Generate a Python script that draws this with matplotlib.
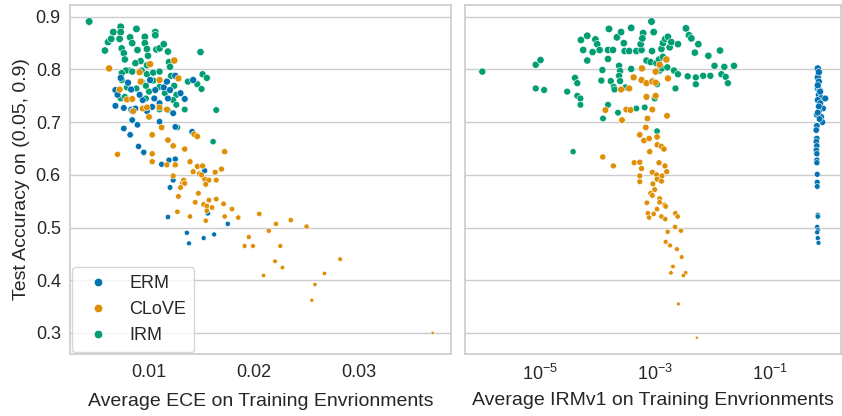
import numpy as np
import matplotlib
matplotlib.use("Agg")
import matplotlib.pyplot as plt
from matplotlib.lines import Line2D

plt.rcParams['font.family'] = ['Liberation Sans', 'DejaVu Sans']

methods = ["ERM", "CLoVE", "IRM"]
colors = {"ERM": "#0173b2", "CLoVE": "#de8f05", "IRM": "#029e73"}

# ---- left panel: average ECE vs test accuracy
erm_ece = [0.0073, 0.0068, 0.0068, 0.0076, 0.0083, 0.0083, 0.0080, 0.0094, 0.0105, 0.0106,
           0.0114, 0.0117, 0.0125, 0.0118, 0.0123, 0.0134, 0.0130, 0.0142, 0.0076, 0.0082,
           0.0084, 0.0089, 0.0090, 0.0095, 0.0110, 0.0125, 0.0141, 0.0112, 0.0119, 0.0125,
           0.0123, 0.0120, 0.0103, 0.0087, 0.0084, 0.0095, 0.0153, 0.0118, 0.0156, 0.0175,
           0.0136, 0.0138, 0.0152, 0.0162, 0.0101, 0.0091, 0.0110, 0.0070, 0.0098, 0.0120]
erm_ece_acc = [0.784, 0.761, 0.731, 0.727, 0.724, 0.762, 0.775, 0.742, 0.745, 0.761,
               0.766, 0.777, 0.788, 0.745, 0.717, 0.744, 0.755, 0.780, 0.688, 0.676,
               0.704, 0.695, 0.654, 0.642, 0.701, 0.691, 0.682, 0.620, 0.628, 0.630,
               0.590, 0.576, 0.729, 0.726, 0.721, 0.643, 0.608, 0.520, 0.527, 0.507,
               0.490, 0.470, 0.480, 0.487, 0.780, 0.752, 0.736, 0.752, 0.721, 0.761]

clove_ece = [0.0062, 0.0072, 0.0079, 0.0084, 0.0085, 0.0091, 0.0092, 0.0094, 0.0098, 0.0100,
             0.0101, 0.0110, 0.0110, 0.0112, 0.0124, 0.0117, 0.0128, 0.0103, 0.0103, 0.0103,
             0.0118, 0.0123, 0.0134, 0.0143, 0.0146, 0.0139, 0.0146, 0.0151, 0.0142, 0.0148,
             0.0163, 0.0169, 0.0172, 0.0070, 0.0117, 0.0125, 0.0123, 0.0132, 0.0153, 0.0157,
             0.0164, 0.0154, 0.0128, 0.0147, 0.0133, 0.0134, 0.0130, 0.0150, 0.0144, 0.0157,
             0.0164, 0.0152, 0.0155, 0.0160, 0.0155, 0.0171, 0.0179, 0.0127, 0.0139, 0.0154,
             0.0172, 0.0185, 0.0205, 0.0221, 0.0235, 0.0250, 0.0214, 0.0195, 0.0191, 0.0199,
             0.0225, 0.0282, 0.0220, 0.0227, 0.0209, 0.0267, 0.0258, 0.0255, 0.0370]
clove_ece_acc = [0.802, 0.762, 0.743, 0.744, 0.721, 0.795, 0.777, 0.726, 0.728, 0.710,
                 0.810, 0.780, 0.728, 0.690, 0.817, 0.724, 0.783, 0.676, 0.640, 0.625,
                 0.666, 0.655, 0.649, 0.677, 0.673, 0.625, 0.616, 0.617, 0.606, 0.602,
                 0.605, 0.611, 0.644, 0.639, 0.619, 0.619, 0.598, 0.585, 0.592, 0.590,
                 0.590, 0.582, 0.559, 0.565, 0.590, 0.584, 0.576, 0.600, 0.548, 0.552,
                 0.554, 0.544, 0.541, 0.538, 0.532, 0.545, 0.535, 0.530, 0.521, 0.513,
                 0.521, 0.519, 0.526, 0.507, 0.514, 0.502, 0.494, 0.482, 0.465, 0.465,
                 0.465, 0.440, 0.436, 0.424, 0.409, 0.413, 0.392, 0.362, 0.300]

irm_ece = [0.0043, 0.0058, 0.0061, 0.0064, 0.0066, 0.0073, 0.0073, 0.0072, 0.0074, 0.0076,
           0.0077, 0.0082, 0.0084, 0.0088, 0.0089, 0.0096, 0.0096, 0.0098, 0.0099, 0.0106,
           0.0106, 0.0107, 0.0110, 0.0114, 0.0118, 0.0119, 0.0149, 0.0092, 0.0087, 0.0098,
           0.0081, 0.0078, 0.0074, 0.0084, 0.0093, 0.0098, 0.0104, 0.0110, 0.0104, 0.0093,
           0.0097, 0.0100, 0.0110, 0.0120, 0.0121, 0.0124, 0.0115, 0.0126, 0.0123, 0.0137,
           0.0146, 0.0151, 0.0155, 0.0150, 0.0164, 0.0134, 0.0126, 0.0118, 0.0110, 0.0097,
           0.0088, 0.0079, 0.0073, 0.0074, 0.0077, 0.0127, 0.0161]
irm_ece_acc = [0.891, 0.836, 0.852, 0.858, 0.871, 0.881, 0.871, 0.858, 0.840, 0.831,
               0.819, 0.861, 0.850, 0.877, 0.837, 0.862, 0.850, 0.839, 0.826, 0.871,
               0.865, 0.838, 0.840, 0.848, 0.834, 0.814, 0.833, 0.816, 0.812, 0.808,
               0.798, 0.798, 0.793, 0.796, 0.798, 0.791, 0.794, 0.796, 0.779, 0.777,
               0.769, 0.758, 0.767, 0.805, 0.788, 0.769, 0.755, 0.752, 0.742, 0.777,
               0.772, 0.791, 0.784, 0.763, 0.723, 0.724, 0.733, 0.723, 0.724, 0.745,
               0.764, 0.766, 0.745, 0.780, 0.748, 0.690, 0.663]

# ---- right panel: average IRMv1 penalty vs test accuracy
erm_irm = [0.69, 0.69, 0.72, 0.69, 0.74, 0.72, 0.79, 0.93, 0.69, 0.76,
           0.85, 0.72, 0.665, 0.79, 0.83, 0.665, 0.649, 0.665, 0.649, 0.665,
           0.649, 0.665, 0.665, 0.665, 0.675, 0.675, 0.675, 0.69, 0.69, 0.675,
           0.69, 0.675, 0.69, 0.71, 0.72, 0.69, 0.76, 0.72, 0.69, 0.74]
erm_irm_acc = [0.802, 0.785, 0.777, 0.764, 0.761, 0.752, 0.746, 0.745, 0.742, 0.736,
               0.726, 0.721, 0.714, 0.710, 0.700, 0.693, 0.685, 0.669, 0.663, 0.655,
               0.647, 0.640, 0.628, 0.623, 0.601, 0.586, 0.578, 0.524, 0.521, 0.501,
               0.495, 0.491, 0.480, 0.471, 0.795, 0.770, 0.758, 0.730, 0.718, 0.706]

clove_irm = [6.0e-4, 4.3e-4, 5.9e-4, 7.2e-4, 9.1e-4, 1.04e-3, 2.6e-4, 3.6e-4, 1.70e-3, 1.04e-3,
             1.22e-3, 1.6e-3, 7.2e-4, 1.04e-3, 1.39e-4, 3.2e-4, 3.8e-4, 9.1e-4, 2.7e-4, 7.5e-4,
             1.64e-3, 7.0e-4, 5.5e-4, 6.5e-4, 8.0e-4, 1.10e-3, 1.11e-3, 1.31e-3, 1.45e-3, 8.2e-4,
             1.25e-4, 1.91e-4, 4.4e-4, 5.5e-4, 5.9e-4, 1.19e-3, 1.51e-3, 9.1e-4, 1.62e-3, 5.5e-4,
             5.5e-4, 1.08e-3, 1.34e-3, 1.10e-3, 1.31e-3, 9.3e-4, 1.0e-3, 8.5e-4, 9.1e-4, 1.22e-3,
             1.22e-3, 7.3e-4, 1.49e-3, 1.55e-3, 1.10e-3, 7.6e-4, 9.6e-4, 8.0e-4, 1.31e-3, 1.53e-3,
             2.29e-3, 2.51e-3, 2.26e-3, 2.87e-3, 1.68e-3, 1.55e-3, 1.85e-3, 2.44e-3, 2.95e-3, 2.08e-3,
             1.92e-3, 3.46e-3, 3.16e-3, 2.58e-3, 5.4e-3]
clove_irm_acc = [0.802, 0.785, 0.780, 0.774, 0.777, 0.775, 0.762, 0.764, 0.783, 0.796,
                 0.809, 0.819, 0.748, 0.750, 0.723, 0.724, 0.723, 0.724, 0.704, 0.707,
                 0.712, 0.690, 0.676, 0.665, 0.669, 0.672, 0.657, 0.654, 0.649, 0.644,
                 0.634, 0.617, 0.623, 0.624, 0.612, 0.623, 0.617, 0.605, 0.606, 0.598,
                 0.587, 0.600, 0.598, 0.592, 0.588, 0.583, 0.572, 0.565, 0.561, 0.555,
                 0.548, 0.547, 0.543, 0.540, 0.535, 0.527, 0.526, 0.519, 0.521, 0.516,
                 0.527, 0.521, 0.501, 0.494, 0.492, 0.473, 0.466, 0.459, 0.444, 0.426,
                 0.414, 0.414, 0.409, 0.355, 0.291]

irm_irm = [1.0e-6, 8.5e-6, 1.03e-5, 8.5e-6, 1.19e-5, 3.0e-5, 4.1e-5, 4.5e-5, 4.5e-5, 5.1e-5,
           5.1e-5, 3.8e-5, 5.2e-5, 6.7e-5, 5.7e-5, 6.7e-5, 8.3e-5, 9.3e-5, 1.0e-4, 1.1e-4,
           1.6e-4, 1.54e-4, 1.88e-4, 1.54e-4, 1.23e-4, 1.18e-4, 1.72e-4, 1.94e-4, 2.0e-4, 2.2e-4,
           2.6e-4, 2.9e-4, 3.0e-4, 3.6e-4, 3.9e-4, 4.8e-4, 5.9e-4, 5.7e-4, 6.3e-4, 6.1e-4,
           8.8e-4, 9.6e-4, 9.0e-4, 2.4e-4, 2.5e-4, 2.4e-4, 2.5e-4, 3.1e-4, 3.9e-4, 7.2e-4,
           8.5e-4, 1.07e-3, 1.19e-3, 1.39e-3, 1.31e-3, 1.39e-3, 1.53e-3, 1.70e-3, 1.82e-3, 1.95e-3,
           2.54e-3, 1.22e-3, 1.34e-3, 1.66e-3, 2.17e-3, 2.54e-3, 1.10e-3, 1.0e-3, 9.1e-4, 4.8e-4,
           6.7e-4, 2.3e-4, 1.54e-4, 1.26e-4, 1.10e-3, 2.3e-3, 3.5e-3, 3.95e-3, 4.35e-3, 5.75e-3,
           5.0e-3, 3.75e-3, 5.2e-3, 5.2e-3, 7.0e-3, 9.3e-3, 8.6e-3, 1.37e-2, 1.10e-2, 1.63e-2,
           2.4e-2, 1.45e-2, 1.72e-2, 1.88e-2]
irm_irm_acc = [0.796, 0.809, 0.818, 0.764, 0.761, 0.758, 0.784, 0.774, 0.750, 0.745,
               0.733, 0.644, 0.856, 0.864, 0.837, 0.817, 0.833, 0.857, 0.848, 0.837,
               0.877, 0.837, 0.837, 0.820, 0.799, 0.779, 0.778, 0.767, 0.762, 0.861,
               0.871, 0.850, 0.835, 0.835, 0.879, 0.835, 0.837, 0.848, 0.869, 0.859,
               0.891, 0.871, 0.835, 0.807, 0.797, 0.788, 0.778, 0.766, 0.801, 0.817,
               0.814, 0.812, 0.819, 0.824, 0.839, 0.850, 0.858, 0.862, 0.842, 0.852,
               0.848, 0.798, 0.802, 0.804, 0.798, 0.791, 0.772, 0.745, 0.778, 0.726,
               0.728, 0.718, 0.733, 0.707, 0.683, 0.764, 0.878, 0.865, 0.859, 0.848,
               0.832, 0.787, 0.785, 0.772, 0.788, 0.788, 0.826, 0.836, 0.807, 0.805,
               0.807, 0.791, 0.786, 0.774]

left_data = {"ERM": (erm_ece, erm_ece_acc), "CLoVE": (clove_ece, clove_ece_acc),
             "IRM": (irm_ece, irm_ece_acc)}
right_data = {"ERM": (erm_irm, erm_irm_acc), "CLoVE": (clove_irm, clove_irm_acc),
              "IRM": (irm_irm, irm_irm_acc)}

ACC_MIN, ACC_MAX = 0.29, 0.891
S_MIN, S_MAX = 5, 30


def sizes(acc):
    a = np.asarray(acc)
    return S_MIN + (a - ACC_MIN) / (ACC_MAX - ACC_MIN) * (S_MAX - S_MIN)


def style(ax):
    for sp in ax.spines.values():
        sp.set_color("#cccccc")
        sp.set_linewidth(1.2)
    ax.grid(axis="y", color="#cccccc", linewidth=1.0)
    ax.grid(axis="x", visible=False)
    ax.set_axisbelow(True)
    ax.tick_params(length=0, labelsize=13, colors="#262626", pad=7)


fig = plt.figure(figsize=(8.42, 4.16), dpi=100)
ax1 = fig.add_axes([0.0837, 0.149, 0.452, 0.839])
ax2 = fig.add_axes([0.5523, 0.149, 0.446, 0.839], sharey=ax1)

for m in ["IRM", "ERM", "CLoVE"]:
    x, y = left_data[m]
    ax1.scatter(x, y, s=sizes(y), c=colors[m], edgecolors="white", linewidths=0.4)
    x, y = right_data[m]
    ax2.scatter(x, y, s=sizes(y), c=colors[m], edgecolors="white", linewidths=0.4)

ax1.set_xlim(0.00252, 0.03876)
ax1.set_ylim(0.260, 0.9224)
ax1.set_xticks([0.01, 0.02, 0.03])
ax1.set_yticks([0.3, 0.4, 0.5, 0.6, 0.7, 0.8, 0.9])
ax1.set_xlabel("Average ECE on Training Envrionments", fontsize=14, color="#262626",
               labelpad=9)
ax1.set_ylabel("Test Accuracy on (0.05, 0.9)", fontsize=14, color="#262626")

ax2.set_xscale("log")
ax2.set_xlim(5.0e-7, 1.72)
ax2.set_xticks([1e-5, 1e-3, 1e-1])
ax2.minorticks_off()
ax2.tick_params(axis="y", labelleft=False)
ax2.set_xlabel("Average IRMv1 on Training Envrionments", fontsize=14, color="#262626",
               labelpad=6)

style(ax1)
style(ax2)

handles = [Line2D([], [], marker="o", linestyle="", markersize=6, color=colors[m],
                  markeredgecolor="white", markeredgewidth=0.4) for m in methods]
leg = ax1.legend(handles, methods, loc="lower left", fontsize=13, frameon=True,
                 handletextpad=0.7, borderpad=0.45, labelspacing=0.5,
                 borderaxespad=0.1, handlelength=2.0)
leg.get_frame().set_edgecolor("#cccccc")
for t in leg.get_texts():
    t.set_color("#262626")

fig.savefig("out.png", dpi=100)
